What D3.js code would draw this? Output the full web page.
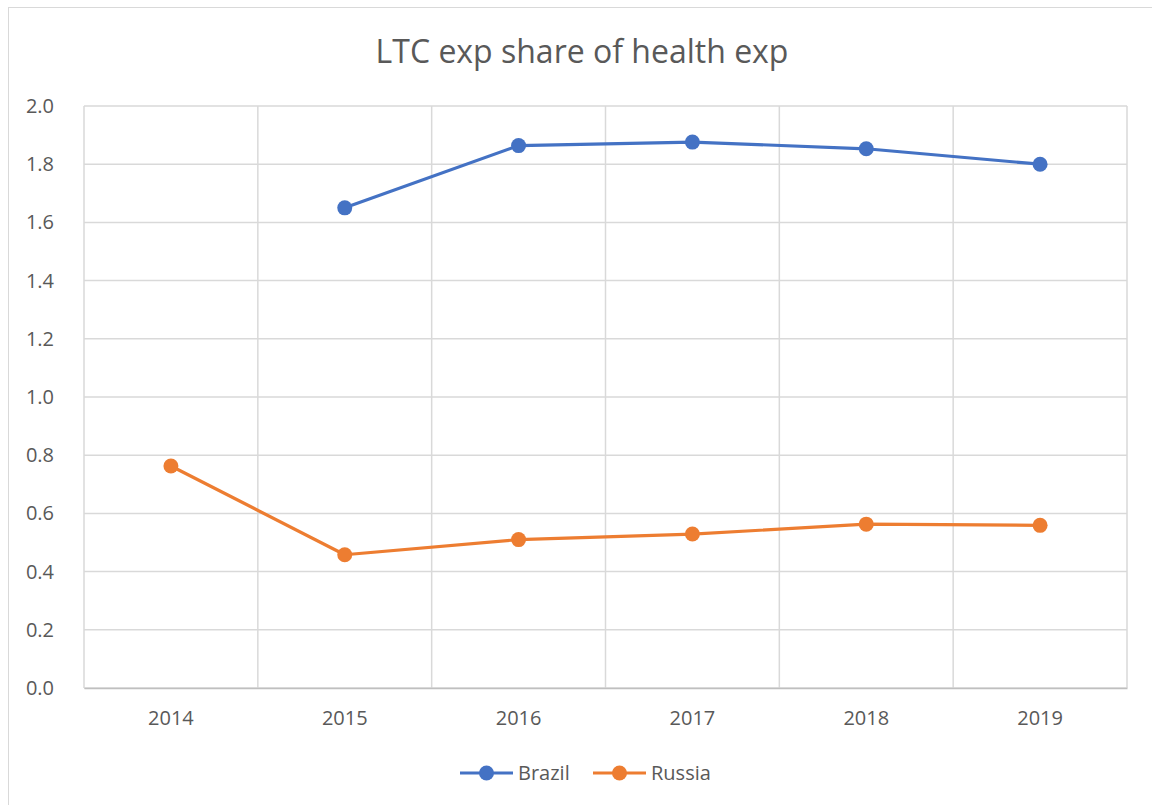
<!DOCTYPE html>
<html><head><meta charset="utf-8">
<script src="https://cdn.jsdelivr.net/npm/d3@7"></script>
<style>
body{margin:0;background:#fff;}
text{font-family:"Open Sans",Lato,sans-serif;fill:#595959;}
</style></head>
<body>
<svg id="chart" width="1152" height="805"></svg>
<script>
const title = "LTC exp share of health exp";
const years = ["2014","2015","2016","2017","2018","2019"];
const brazil = [null, 1.65, 1.864, 1.876, 1.853, 1.80];
const russia = [0.763, 0.458, 0.510, 0.529, 0.563, 0.559];
const yTicks = [0,0.2,0.4,0.6,0.8,1.0,1.2,1.4,1.6,1.8,2.0];
const seriesNames = ["Brazil","Russia"];
const colors = ["#4472C4","#ED7D31"];

const svg = d3.select("#chart");
const m = {left:84, right:1127, top:106, bottom:688};

svg.append("rect").attr("x",8.5).attr("y",7.5).attr("width",1150).attr("height",810)
  .attr("fill","#fff").attr("stroke","#d9d9d9").attr("stroke-width",1);

const x = d3.scaleBand().domain(years).range([m.left,m.right]);
const y = d3.scaleLinear().domain([0,2]).range([m.bottom,m.top]);

const grid = svg.append("g");
yTicks.forEach(t=>{
  grid.append("line").attr("x1",m.left).attr("x2",m.right)
    .attr("y1",y(t)).attr("y2",y(t)).attr("stroke","#d9d9d9").attr("stroke-width",1.5);
});
years.forEach(yr=>{
  grid.append("line").attr("x1",x(yr)).attr("x2",x(yr))
    .attr("y1",m.top).attr("y2",m.bottom).attr("stroke","#d9d9d9").attr("stroke-width",1.5);
});
grid.append("line").attr("x1",m.right).attr("x2",m.right)
  .attr("y1",m.top).attr("y2",m.bottom).attr("stroke","#d9d9d9").attr("stroke-width",1.5);

// axes
const yAxis = svg.append("g").attr("transform",`translate(${m.left},0)`)
  .call(d3.axisLeft(y).tickValues(yTicks).tickFormat(d3.format(".1f")).tickSize(0).tickPadding(30));
yAxis.select(".domain").remove();
yAxis.selectAll("text").style("font-size","20px").attr("fill","#595959");

const xAxis = svg.append("g").attr("transform",`translate(0,${m.bottom})`)
  .call(d3.axisBottom(x).tickSize(0).tickPadding(23));
xAxis.select(".domain").attr("stroke","#bfbfbf").attr("stroke-width",1.5);
xAxis.selectAll("text").style("font-size","20px").attr("fill","#595959");

// title
svg.append("text").attr("x",582).attr("y",63).attr("text-anchor","middle")
  .style("font-size","32px").text(title);

const data = [brazil, russia];
data.forEach((vals,i)=>{
  const pts = years.map((yr,j)=>({yr, v:vals[j]})).filter(d=>d.v!=null);
  const line = d3.line().x(d=>x(d.yr)+x.bandwidth()/2).y(d=>y(d.v));
  svg.append("path").datum(pts).attr("d",line).attr("fill","none")
    .attr("stroke",colors[i]).attr("stroke-width",3.2).attr("stroke-linejoin","round");
  svg.selectAll(null).data(pts).enter().append("circle")
    .attr("cx",d=>x(d.yr)+x.bandwidth()/2).attr("cy",d=>y(d.v)).attr("r",7.5)
    .attr("fill",colors[i]);
});

// legend
const legX = [460, 593];
seriesNames.forEach((n,i)=>{
  const g = svg.append("g").attr("transform",`translate(${legX[i]},773)`);
  g.append("line").attr("x1",0).attr("x2",53).attr("y1",0).attr("y2",0)
    .attr("stroke",colors[i]).attr("stroke-width",3.2);
  g.append("circle").attr("cx",26.5).attr("cy",0).attr("r",7.5).attr("fill",colors[i]);
  g.append("text").attr("x",58).attr("y",7).style("font-size","20px").text(n);
});
</script>
</body></html>
